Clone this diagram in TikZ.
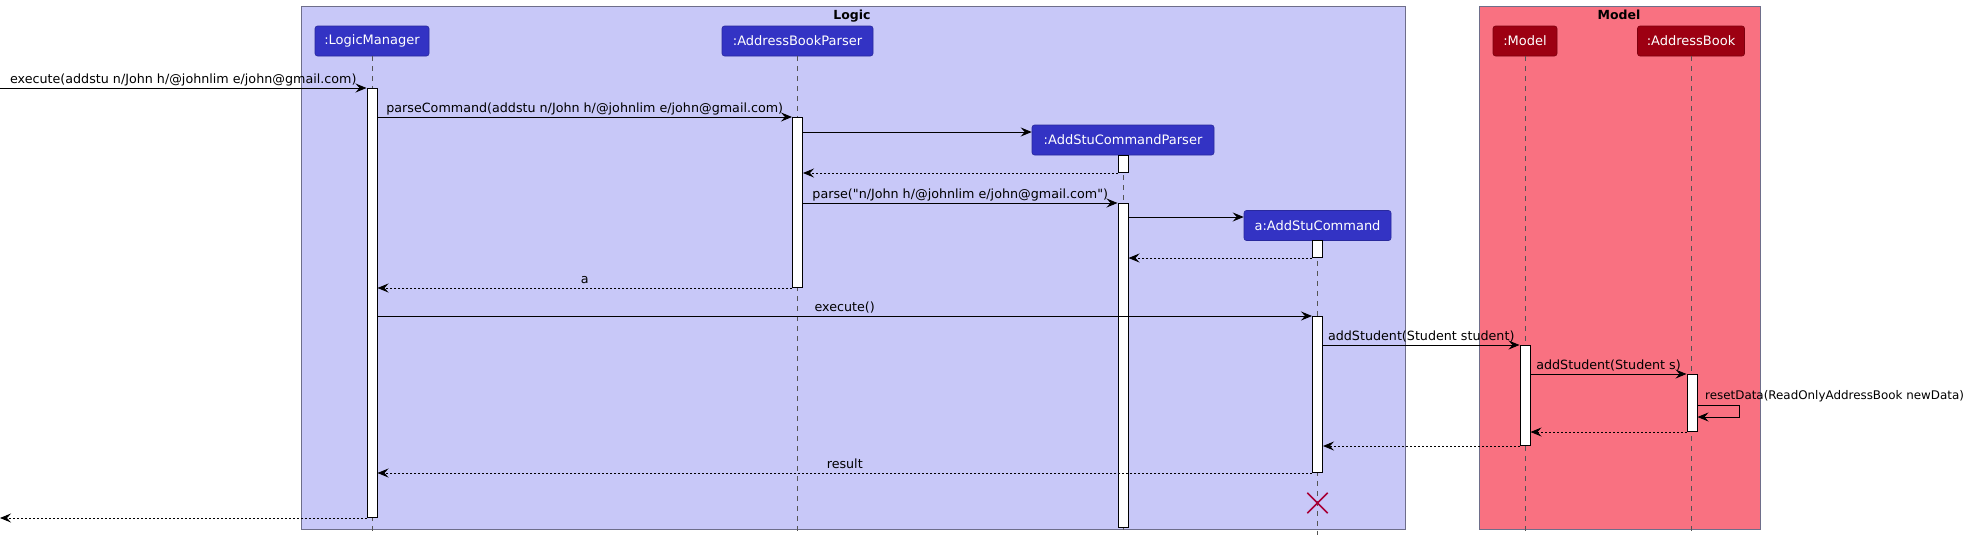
\documentclass[tikz,border=0pt]{standalone}
\usepackage{fontspec}
\newfontfamily\dvfont{DejaVu Sans}
\usetikzlibrary{arrows.meta}
\definecolor{logicbg}{HTML}{C8C8F8}
\definecolor{logicpart}{HTML}{3333C4}
\definecolor{modelbg}{HTML}{F97181}
\definecolor{modelpart}{HTML}{9D0012}
\definecolor{grpline}{HTML}{6E6E8A}
\definecolor{lifec}{HTML}{555555}
\definecolor{destroyc}{HTML}{A80036}
\tikzset{
  grpbox/.style={draw=grpline, line width=0.9pt, anchor=north west, inner sep=0pt},
  grptitle/.style={font=\dvfont\fontsize{12.5}{14}\selectfont\bfseries, anchor=base, inner sep=0pt},
  partL/.style={fill=logicpart, draw=logicpart!80!black, rounded corners=2.5pt, text=white,
    font=\dvfont\fontsize{13}{15}\selectfont, minimum height=30pt, inner sep=0pt, line width=0.6pt},
  partM/.style={partL, fill=modelpart, draw=modelpart!80!black},
  life/.style={draw=lifec, dash pattern=on 5pt off 5pt, line width=0.8pt},
  act/.style={draw=black, fill=white, line width=1pt, minimum width=10pt, inner sep=0pt, anchor=north},
  msg/.style={draw=black, line width=0.9pt, -{Stealth[length=11pt,width=9pt,inset=4pt]}},
  ret/.style={msg, dash pattern=on 2pt off 2pt},
  lbl/.style={font=\dvfont\fontsize{12.7}{14}\selectfont, inner sep=0pt, anchor=base},
  destroy/.style={draw=destroyc, line width=1.6pt}
}
\begin{document}
\begin{tikzpicture}[x=1pt,y=-1pt]
\useasboundingbox (0,0) rectangle (1977,541);
% groups
\node[grpbox, fill=logicbg, minimum width=1104pt, minimum height=523pt] (logic) at (301,6) {};
\node[grpbox, fill=modelbg, minimum width=281pt, minimum height=523pt] (model) at (1479,6) {};
\node[grptitle] (logict) at (852,19) {Logic};
\node[grptitle] (modelt) at (1619,19) {Model};
% participants
\node[partL, minimum width=114pt] (lm) at (372,41) {:LogicManager};
\node[partL, minimum width=151pt] (abp) at (797.5,41) {:AddressBookParser};
\node[partL, minimum width=182pt] (ascp) at (1123,140) {:AddStuCommandParser};
\node[partL, minimum width=147pt] (asc) at (1317.5,225.5) {a:AddStuCommand};
\node[partM, minimum width=64pt] (mod) at (1525,41) {:Model};
\node[partM, minimum width=107pt] (ab) at (1691,41) {:AddressBook};
% lifelines
\coordinate (bot) at (0,535);
\draw[life] (lm.south) -- (lm.south |- bot);
\draw[life] (abp.south) -- (abp.south |- bot);
\draw[life] (ascp.south) -- (ascp.south |- bot);
\draw[life] (asc.south) -- (asc.south |- bot);
\draw[life] (mod.south) -- (mod.south |- bot);
\draw[life] (ab.south) -- (ab.south |- bot);
% activations
\node[act, minimum height=429pt] (lmA) at (372,88) {};
\node[act, minimum height=170pt] (abpA) at (797.5,117) {};
\node[act, minimum height=17pt] (ascpA1) at (1123,155) {};
\node[act, minimum height=324pt] (ascpA2) at (1123,203) {};
\node[act, minimum height=17pt] (ascA1) at (1317.5,240) {};
\node[act, minimum height=156pt] (ascA2) at (1317.5,316) {};
\node[act, minimum height=100pt] (modA) at (1525,345) {};
\node[act, minimum height=57pt] (abA) at (1692,374) {};
% destroy
\node[minimum size=20pt, inner sep=0pt] (x) at (1317.5,503) {};
\draw[destroy] (x.north west) -- (x.south east) (x.north east) -- (x.south west);
% messages
\coordinate (src) at (0,88);
\coordinate (sink) at (0,517);
\draw[msg] (src) -- (lmA.west |- src) node[lbl, midway, yshift=5pt] {execute(addstu n/John h/@johnlim e/john@gmail.com)};
\draw[msg] (lmA.east |- abpA.north) -- (abpA.north west) node[lbl, midway, yshift=5pt] {parseCommand(addstu n/John h/@johnlim e/john@gmail.com)};
\draw[msg] (abpA.east |- 0,132) -- (ascp.west |- 0,132);
\draw[ret] (ascpA1.south west) -- (abpA.east |- ascpA1.south);
\draw[msg] (abpA.east |- ascpA2.north) -- (ascpA2.north west) node[lbl, midway, yshift=5pt] {parse("n/John h/@johnlim e/john@gmail.com")};
\draw[msg] (ascpA2.east |- 0,217) -- (asc.west |- 0,217);
\draw[ret] (ascA1.south west) -- (ascpA2.east |- ascA1.south);
\draw[ret] (abpA.south west) -- (lmA.east |- abpA.south) node[lbl, midway, yshift=5pt] {a};
\draw[msg] (lmA.east |- ascA2.north) -- (ascA2.north west) node[lbl, midway, yshift=5pt] {execute()};
\draw[msg] (ascA2.east |- modA.north) -- (modA.north west) node[lbl, midway, yshift=5pt] {addStudent(Student student)};
\draw[msg] (modA.east |- abA.north) -- (abA.north west) node[lbl, midway, yshift=5pt] {addStudent(Student s)};
\coordinate (selfR) at (1739,405);
\draw[msg] (abA.east |- selfR) -- (selfR) -- (selfR |- 0,417) -- (abA.east |- 0,417);
\node[lbl, anchor=base west, font=\dvfont\fontsize{11.9}{14}\selectfont] (selfL) at (1705,399) {resetData(ReadOnlyAddressBook newData)};
\draw[ret] (abA.south west) -- (modA.east |- abA.south);
\draw[ret] (modA.south west) -- (ascA2.east |- modA.south);
\draw[ret] (ascA2.south west) -- (lmA.east |- ascA2.south) node[lbl, midway, yshift=5pt] {result};
\draw[ret] (lmA.south west) -- (sink |- lmA.south);
\end{tikzpicture}
\end{document}
